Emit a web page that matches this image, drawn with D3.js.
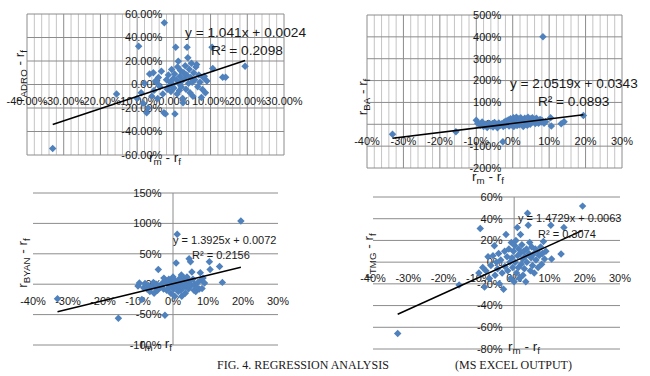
<!DOCTYPE html>
<html>
<head>
<meta charset="utf-8">
<script src="https://cdn.jsdelivr.net/npm/d3@7"></script>
<style>
  body { margin: 0; background: #fff; }
  text { font-family: "Liberation Sans", Arial, sans-serif; fill: #1a1a1a; }
  .caption { font-family: "Liberation Serif", "Times New Roman", serif; }
</style>
</head>
<body>
<svg id="chart" width="650" height="376"></svg>
<script>
// market excess return r_m - r_f (shared by all four panels)
const marketExcess = [
  -0.330, -0.156, -0.100, -0.096, -0.089, -0.084, -0.080, -0.074, -0.070, -0.066,
  -0.060, -0.056, -0.054, -0.050, -0.047, -0.044, -0.042, -0.038, -0.034, -0.030,
  -0.027, -0.026, -0.023, -0.020, -0.018, -0.015, -0.012, -0.010, -0.008, -0.006,
  -0.004, -0.002, 0.000, 0.002, 0.003, 0.005, 0.007, 0.009, 0.010, 0.012,
  0.013, 0.015, 0.017, 0.018, 0.020, 0.022, 0.024, 0.025, 0.027, 0.029,
  0.031, 0.033, 0.035, 0.036, 0.038, 0.040, 0.042, 0.044, 0.046, 0.048,
  0.050, 0.052, 0.054, 0.057, 0.060, 0.062, 0.065, 0.068, 0.071, 0.075,
  0.078, 0.080, 0.083, 0.086, 0.090, 0.104, 0.106, 0.133, 0.141, 0.194
];

const adroExcess = [
  -0.545, -0.080, -0.120, 0.326, -0.070, -0.160, 0.010, -0.240, -0.200, 0.090,
  -0.100, 0.100, -0.050, 0.030, 0.014, -0.120, 0.060, -0.020, 0.113, -0.080,
  -0.240, 0.525, -0.250, 0.040, -0.040, 0.080, -0.010, 0.020, -0.060, 0.128,
  0.000, 0.050, -0.030, 0.090, -0.250, 0.317, 0.040, -0.080, 0.150, 0.198,
  0.010, -0.050, 0.070, 0.120, -0.020, 0.030, -0.120, -0.156, 0.100, 0.050,
  0.160, -0.040, 0.080, 0.317, 0.227, 0.010, 0.130, -0.070, 0.060, 0.180,
  0.020, -0.100, 0.100, 0.040, 0.150, 0.170, -0.020, 0.080, 0.020, -0.110,
  -0.043, 0.060, 0.070, -0.070, 0.030, 0.317, 0.136, 0.062, 0.062, 0.156
];

const baExcess = [
  -0.460, -0.340, 0.180, 0.050, -0.050, 0.100, -0.100, 0.000, -0.150, 0.050,
  -0.080, 0.020, -0.120, 0.080, -0.040, 0.000, -0.160, 0.060, -0.050, 0.020,
  -0.800, -0.100, 0.100, -0.050, 0.150, 0.000, 0.200, -0.080, 0.080, 0.250,
  -0.030, 0.120, 0.050, 0.300, -0.100, 0.200, 0.000, 0.100, 0.320, -0.060,
  0.180, 0.050, 0.250, -0.020, 0.120, 0.300, 0.000, 0.200, 0.080, -0.100,
  0.150, 0.280, 0.020, 0.100, 0.220, -0.050, 0.320, 0.100, 0.180, 0.000,
  0.250, 0.080, 0.300, 0.120, 0.200, 0.040, 0.280, 0.150, 0.050, 0.220,
  0.100, 0.180, 4.000, 0.050, 0.120, 0.300, -0.080, 0.020, 0.120, 0.400
];

const byanExcess = [
  -0.240, -0.560, -0.030, 0.020, -0.250, -0.060, 0.010, -0.080, -0.020, -0.120,
  -0.040, 0.030, -0.150, -0.060, 0.000, -0.100, 0.240, -0.050, -0.030, 0.020,
  -0.080, 0.100, -0.510, 0.050, -0.100, 0.000, 0.080, -0.050, 0.030, -0.150,
  0.060, -0.020, 0.120, -0.080, 0.020, -0.200, 0.050, 0.350, -0.050, 0.820,
  0.000, -0.120, 0.080, -0.030, 0.040, -0.100, 0.150, -0.200, 0.030, -0.060,
  0.100, 0.000, -0.150, 0.060, -0.040, 0.120, 0.020, -0.080, 0.420, 0.050,
  0.370, -0.020, 0.200, 0.080, -0.100, 0.000, -0.120, -0.050, 0.030, -0.080,
  0.190, 0.070, -0.070, 0.100, 0.020, 0.370, 0.240, 0.290, 0.030, 1.040
];

const tmgExcess = [
  -0.657, -0.210, -0.100, 0.310, -0.050, -0.230, -0.080, 0.050, -0.150, -0.030,
  0.060, 0.150, -0.120, 0.000, -0.060, 0.080, -0.200, 0.020, -0.100, -0.250,
  0.100, -0.040, 0.255, 0.050, -0.080, 0.120, 0.000, -0.150, 0.180, 0.040,
  -0.050, 0.100, -0.180, 0.150, 0.000, 0.200, -0.100, 0.320, 0.060, -0.050,
  0.120, -0.150, 0.080, 0.255, -0.020, 0.160, 0.030, -0.120, 0.100, -0.060,
  0.050, -0.180, 0.120, 0.000, 0.450, 0.340, 0.080, 0.180, -0.080, 0.040,
  0.140, -0.030, 0.070, -0.100, 0.120, 0.020, 0.100, -0.050, 0.060, 0.140,
  -0.020, 0.080, 0.190, 0.030, 0.100, 0.340, 0.030, 0.074, 0.320, 0.516
];

const stockNames = ["ADRO", "BA", "BYAN", "TMG"];
const slopes = [1.041, 2.0519, 1.3925, 1.4729];
const intercepts = [0.0024, 0.0343, 0.0072, 0.0063];
const rSquared = [0.2098, 0.0893, 0.2156, 0.3074];
const xTickValues = [-0.4, -0.3, -0.2, -0.1, 0, 0.1, 0.2, 0.3];
const yTickValues = [
  [-0.6, -0.4, -0.2, 0, 0.2, 0.4, 0.6],
  [-2, -1, 0, 1, 2, 3, 4, 5],
  [-1, -0.5, 0, 0.5, 1, 1.5],
  [-0.8, -0.6, -0.4, -0.2, 0, 0.2, 0.4, 0.6]
];
const captionLeft = "FIG. 4. REGRESSION ANALYSIS";
const captionRight = "(MS EXCEL OUTPUT)";

const hyphenLocale = d3.formatLocale({decimal: ".", thousands: ",", grouping: [3], currency: ["$", ""], minus: "-"});

// layout of each panel (pixel boxes, label spots)
const layouts = [
  {ys: adroExcess, box: [27, 284, 14, 155], fmt: ".2%", minor: true, eqSize: 13.7,
   eq: [185, 37], r2: [211, 55], yTitle: [19, 76], xTitle: [165, 162]},
  {ys: baExcess, box: [367, 622, 15, 168], fmt: ".0%", minor: true, eqSize: 13.6,
   eq: [510, 88], r2: [538, 106], yTitle: [362, 97], xTitle: [488, 181]},
  {ys: byanExcess, box: [33, 278, 193, 345], fmt: ".0%", minor: false, eqSize: 11,
   eq: [173, 244], r2: [192, 259], yTitle: [22, 263], xTitle: [156, 348]},
  {ys: tmgExcess, box: [373, 620, 197, 349], fmt: ".0%", minor: false, eqSize: 11,
   eq: [518, 222], r2: [538, 238], yTitle: [368, 256], xTitle: [524, 351]}
];

const svg = d3.select("#chart");
const majorGrid = "#8c8c8c";
const minorGrid = "#c4c4c4";
const marker = d3.symbol(d3.symbolSquare, 28);

function subLabel(sel, main, sub) {
  // "r_sub - r_f" with subscripts
  sel.append("tspan").text(main);
  sel.append("tspan").attr("dy", 3).attr("font-size", "0.72em").text(sub);
  sel.append("tspan").attr("dy", -3).text(" - r");
  sel.append("tspan").attr("dy", 3).attr("font-size", "0.72em").text("f");
}

layouts.forEach((p, i) => {
  const [L, R, T, B] = p.box;
  const yt = yTickValues[i];
  const x = d3.scaleLinear().domain([-0.4, 0.3]).range([L, R]);
  const y = d3.scaleLinear().domain([yt[0], yt[yt.length - 1]]).range([B, T]);
  const g = svg.append("g");
  const fmt = hyphenLocale.format(p.fmt);

  if (p.minor) {
    g.selectAll(null).data(d3.range(-40, 31, 2).filter(v => v % 10 !== 0).map(v => v / 100))
      .join("line")
      .attr("x1", d => x(d)).attr("x2", d => x(d))
      .attr("y1", T).attr("y2", B)
      .attr("stroke", minorGrid).attr("stroke-width", 1);
    g.selectAll(null).data(xTickValues).join("line")
      .attr("x1", d => x(d)).attr("x2", d => x(d))
      .attr("y1", T).attr("y2", B)
      .attr("stroke", majorGrid).attr("stroke-width", 1);
  } else {
    g.append("line")
      .attr("x1", x(0)).attr("x2", x(0)).attr("y1", T).attr("y2", B)
      .attr("stroke", majorGrid).attr("stroke-width", 1);
  }
  g.selectAll(null).data(yt).join("line")
    .attr("x1", L).attr("x2", R)
    .attr("y1", d => y(d)).attr("y2", d => y(d))
    .attr("stroke", majorGrid).attr("stroke-width", 1);

  // tick labels
  g.selectAll(null).data(xTickValues).join("text")
    .attr("x", d => x(d)).attr("y", y(0) + 16.5).attr("dy", "0.35em")
    .attr("text-anchor", "middle").attr("font-size", 11)
    .text(d => fmt(d));
  g.selectAll(null).data(yt).join("text")
    .attr("x", x(0) - 11.5).attr("y", d => y(d)).attr("dy", "0.35em")
    .attr("text-anchor", "end").attr("font-size", 11)
    .text(d => fmt(d));

  // axis titles
  const yTitle = g.append("text")
    .attr("transform", `translate(${p.yTitle[0]},${p.yTitle[1]}) rotate(-90)`)
    .attr("text-anchor", "middle").attr("dy", "0.35em").attr("font-size", 13.5);
  subLabel(yTitle, "r", stockNames[i]);
  const xTitle = g.append("text")
    .attr("x", p.xTitle[0]).attr("y", p.xTitle[1])
    .attr("text-anchor", "middle").attr("font-size", 13.5);
  subLabel(xTitle, "r", "m");

  // points
  const pts = marketExcess.map((mx, k) => [mx, p.ys[k]]);
  g.selectAll(null).data(pts).join("path")
    .attr("d", marker)
    .attr("transform", d => `translate(${x(d[0])},${y(d[1])}) rotate(45)`)
    .attr("fill", "#4f81bd");

  // linear trendline over the data range
  const ext = d3.extent(marketExcess);
  const line = d3.line().x(d => x(d)).y(d => y(slopes[i] * d + intercepts[i]));
  g.append("path").attr("d", line(ext))
    .attr("stroke", "#000").attr("stroke-width", 1.5).attr("fill", "none");

  g.append("text").attr("x", p.eq[0]).attr("y", p.eq[1]).attr("font-size", p.eqSize)
    .text(`y = ${slopes[i]}x + ${intercepts[i]}`);
  g.append("text").attr("x", p.r2[0]).attr("y", p.r2[1]).attr("font-size", p.eqSize)
    .text(`R² = ${rSquared[i]}`);
});

svg.append("text").attr("class", "caption").attr("x", 217).attr("y", 369)
  .attr("font-size", 12).text(captionLeft);
svg.append("text").attr("class", "caption").attr("x", 455).attr("y", 369)
  .attr("font-size", 12).text(captionRight);
</script>
</body>
</html>
